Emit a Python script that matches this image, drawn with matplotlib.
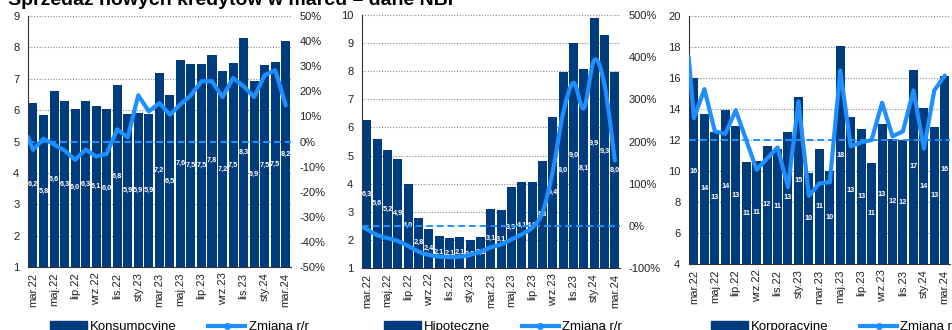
import numpy as np
import matplotlib.pyplot as plt
from matplotlib.path import Path
from matplotlib.patches import PathPatch, Patch
from matplotlib.lines import Line2D
from matplotlib.ticker import PercentFormatter

plt.rcParams['font.family'] = ['Liberation Sans', 'DejaVu Sans']
plt.rcParams['axes.unicode_minus'] = False

W, H = 953, 330
NAVY = '#003B7E'
BLUE = '#1F8FFF'

months = ["mar.22", "kwi.22", "maj.22", "cze.22", "lip.22", "sie.22", "wrz.22",
          "paź.22", "lis.22", "gru.22", "sty.23", "lut.23", "mar.23", "kwi.23",
          "maj.23", "cze.23", "lip.23", "sie.23", "wrz.23", "paź.23", "lis.23",
          "gru.23", "sty.24", "lut.24", "mar.24"]

# sprzedaz nowych kredytow, mld zl
konsump = [6.24, 5.83, 6.61, 6.29, 6.05, 6.28, 6.12, 6.02, 6.79, 5.88, 5.91, 5.88, 7.17,
           6.47, 7.59, 7.47, 7.47, 7.77, 7.24, 7.51, 8.29, 6.92, 7.45, 7.52, 8.20]
hipot = [6.27, 5.58, 5.20, 4.88, 4.00, 2.79, 2.40, 2.13, 2.06, 2.10, 2.00, 2.12, 3.11,
         3.07, 3.88, 4.07, 4.05, 4.79, 6.36, 7.96, 9.02, 8.07, 9.88, 9.29, 7.98]
korpo = [15.98, 13.68, 12.54, 13.94, 12.90, 10.56, 10.65, 11.63, 11.42, 12.52, 14.75, 9.85,
         11.42, 10.00, 18.06, 13.48, 12.71, 10.54, 13.03, 12.05, 12.00, 16.52, 14.05, 12.86, 16.13]

# zmiana r/r w %, pierwsza wartosc = poczatek linii przy osi
konsump_rr = [2.0, -3.3, 1.1, -1.2, -3.6, -7.3, -3.2, -6.0, -4.9, 4.8, 1.7, 18.4, 12.0,
              15.3, 10.7, 14.8, 18.4, 24.0, 24.0, 17.7, 25.3, 22.0, 17.7, 26.4, 28.4, 14.4]
hipot_rr = [-3, -8, -22, -29, -36, -48, -61, -69, -73, -74, -73, -69, -61, -51, -44, -32,
            -20, -4, 32, 130, 268, 339, 279, 393, 335, 155]
korpo_rr = [67, 17.5, 41, 7, 5, 24, 0, -24, -15, -6, -38, 31, -45, -35, -34, 56, -5, -2,
            0, 30, 3, 7, 40, -7, 40, 52]


def fmt_pl(v, digits):
    return f"{v:.{digits}f}".replace(".", ",")


def smooth_path(x, y):
    # catmull-rom -> bezier, like excel smoothed line
    pts = np.column_stack([x, y])
    verts = [pts[0]]
    codes = [Path.MOVETO]
    n = len(pts)
    for i in range(n - 1):
        p0 = pts[max(i - 1, 0)]
        p1 = pts[i]
        p2 = pts[i + 1]
        p3 = pts[min(i + 2, n - 1)]
        verts += [p1 + (p2 - p0) / 6, p2 - (p3 - p1) / 6, p2]
        codes += [Path.CURVE4] * 3
    return Path(verts, codes)


def panel(px, values, rr, ylim, ystep, rlim, rstep, name, digits, smooth=False,
          right_labels=True):
    left, top, right, bottom = px
    ax = fig.add_axes([left / W, 1 - bottom / H, (right - left) / W, (bottom - top) / H])
    x = np.arange(len(values))
    ax.bar(x, np.array(values) - ylim[0], bottom=ylim[0], width=0.86, color=NAVY, zorder=2)
    for xi, v in zip(x, values):
        ax.text(xi, (v + ylim[0]) / 2, fmt_pl(v, digits), ha='center', va='center',
                color='white', fontsize=5.3, fontweight='bold', zorder=3)
    ax.set_xlim(-0.5, len(values) - 0.5)
    ax.set_ylim(*ylim)
    ax.set_yticks(np.arange(ylim[0], ylim[1] + 0.01, ystep))
    ax.grid(axis='y', color='#888888', ls=(0, (1, 1.5)), lw=0.8)
    ax.set_axisbelow(True)
    ax.set_xticks(x[::2])
    ax.set_xticklabels(months[::2], rotation=90, fontsize=8)
    ax.tick_params(axis='both', length=0, labelsize=8, colors='#222222')
    ax.tick_params(axis='y', pad=6)
    ax.tick_params(axis='x', pad=4)
    for s in ['top', 'right']:
        ax.spines[s].set_visible(False)
    ax.spines['left'].set_color('#333333')
    ax.spines['bottom'].set_color('#333333')

    ax2 = ax.twinx()
    ax2.set_ylim(*rlim)
    ax2.set_yticks(np.arange(rlim[0], rlim[1] + 0.01, rstep))
    ax2.yaxis.set_major_formatter(PercentFormatter(decimals=0))
    ax2.tick_params(axis='y', length=0, labelsize=8, colors='#222222', pad=6,
                    labelright=right_labels)
    for s in ax2.spines.values():
        s.set_visible(False)
    ax2.axhline(0, color=BLUE, lw=1.4, ls=(0, (3.5, 2)))
    lx = np.concatenate([[-0.5], x])
    if smooth:
        ax2.add_patch(PathPatch(smooth_path(lx, rr), fill=False, edgecolor=BLUE, lw=3,
                                capstyle='round', joinstyle='round'))
    else:
        ax2.plot(lx, rr, color=BLUE, lw=3, solid_capstyle='round', solid_joinstyle='round')
    ax2.set_xlim(-0.5, len(values) - 0.5)

    handles = [Patch(color=NAVY),
               Line2D([], [], color=BLUE, lw=3, marker='o', ms=4)]
    fig.legend(handles, [name, "Zmiana r/r"], loc='center left',
               bbox_to_anchor=((left + 22) / W, 3 / H), ncol=2, frameon=False,
               borderpad=0, borderaxespad=0, handlelength=2.8, handletextpad=0.25,
               columnspacing=2.4, fontsize=9.5)
    return ax, ax2


fig = plt.figure(figsize=(W / 100, H / 100), dpi=100)

fig.text(8 / W, 1 - 5 / H, "Sprzedaż nowych kredytów w marcu – dane NBP",
         fontsize=14, fontweight='bold', va='baseline', ha='left')

panel((27.7, 16, 291, 267), konsump, konsump_rr, (1, 9), 1, (-50, 50), 10,
      "Konsumpcyjne", 1)
panel((361.7, 15, 620, 268), hipot, hipot_rr, (1, 10), 1, (-100, 500), 100,
      "Hipoteczne", 1, smooth=True)
# prawa os trzeciego wykresu wypada poza kadrem
panel((688.7, 16, 950, 264), korpo, korpo_rr, (4, 20), 2, (-100, 100), 25,
      "Korporacyjne", 0, right_labels=False)

fig.savefig("out.png", dpi=100)
